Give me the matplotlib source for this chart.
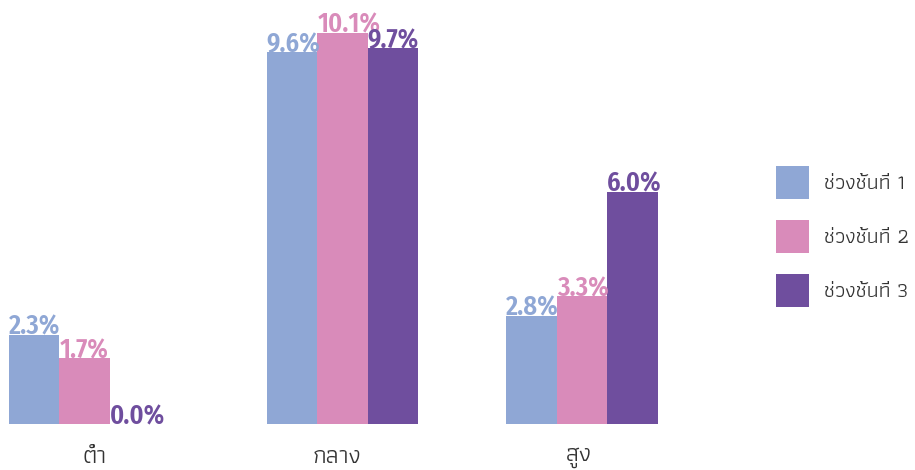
import matplotlib
matplotlib.use("Agg")
import matplotlib.pyplot as plt
import numpy as np

categories = ["ต่ำ", "กลาง", "สูง"]
series = ["ช่วงชั้นที่ 1", "ช่วงชั้นที่ 2", "ช่วงชั้นที่ 3"]
level1 = [2.3, 9.6, 2.8]
level2 = [1.7, 10.1, 3.3]
level3 = [0.0, 9.7, 6.0]
colors = ["#8FA7D5", "#D98BBA", "#6F4E9E"]

# layout in pixel units of the figure
W, H = 915, 470
base = 424
px_per_pct = 38.75
centers = np.array([84.5, 342.5, 582.0])
label_x = [95, 337, 579]
bw = 50.5

fig = plt.figure(figsize=(W / 100, H / 100), dpi=100)
ax = fig.add_axes([0, (H - base) / H, 1, base / H])
ax.set_xlim(0, W)
ax.set_ylim(0, base / px_per_pct)

thai = ["Athiti", "DejaVu Sans"]
num_font = ["Fira Sans Condensed", "Barlow Semi Condensed", "Roboto Condensed", "Kanit"]
for i, (vals, name, c) in enumerate(zip([level1, level2, level3], series, colors)):
    xs = centers + (i - 1) * bw
    ax.bar(xs, vals, width=bw, color=c, label=name)
    for x, v in zip(xs, vals):
        ax.text(x - bw / 2, v, f"{v:.1f}%", color=c, fontsize=19,
                family=num_font, fontweight="semibold", ha="left", va="baseline")

ax.set_xticks(label_x)
ax.set_xticklabels(categories, family=thai, fontsize=18, fontweight="normal")
ax.tick_params(axis="x", length=0, pad=16, colors="#333333")
ax.set_yticks([])
for s in ax.spines.values():
    s.set_visible(False)

ax.legend(loc="upper left", bbox_to_anchor=(776 / W, 1 - 166 / H),
          bbox_transform=fig.transFigure, frameon=False, borderpad=0,
          borderaxespad=0, handlelength=1.533, handleheight=1.98,
          handletextpad=0.7, labelspacing=0.975,
          prop={"family": thai, "size": 15.5, "weight": "normal"},
          labelcolor="#333333")

fig.savefig("out.png", dpi=100)
